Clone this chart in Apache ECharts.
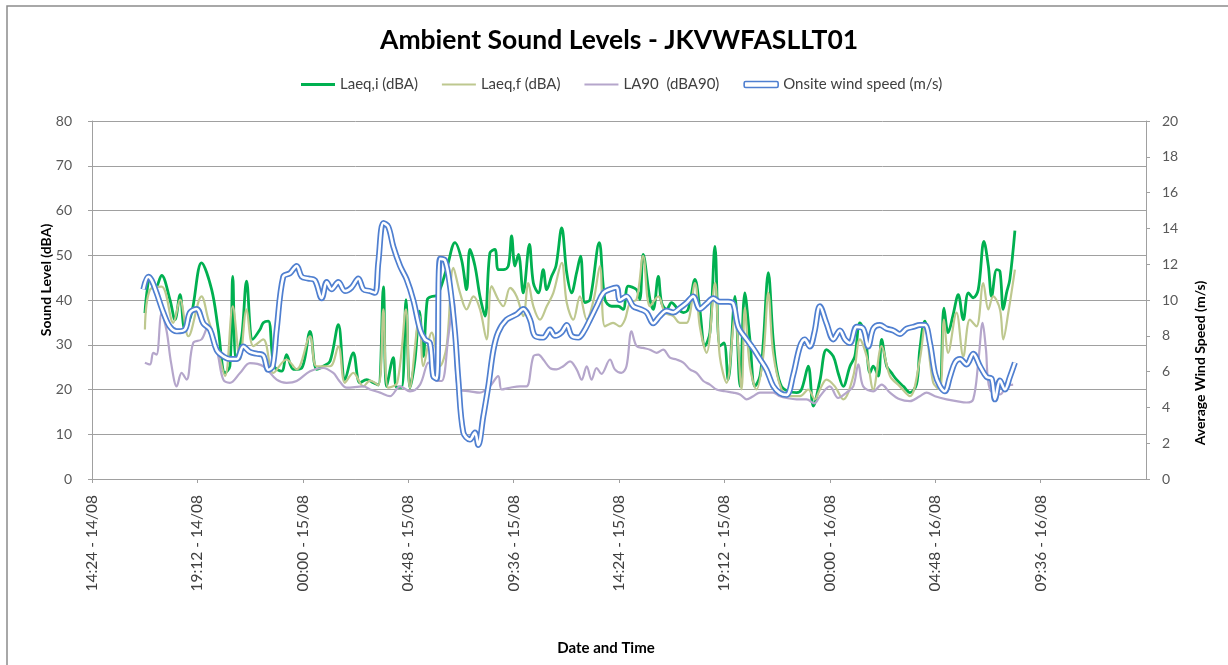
<!DOCTYPE html>
<html>
<head>
<meta charset="utf-8">
<title>Ambient Sound Levels - JKVWFASLLT01</title>
<script src="https://cdn.jsdelivr.net/npm/echarts@6/dist/echarts.min.js"></script>
<style>
  html, body { margin: 0; padding: 0; background: #ffffff; }
  #chart { width: 1228px; height: 665px; }
</style>
</head>
<body>
<div id="chart"></div>
<script>
// Time is in decimal hours counted from 00:00 on 14/08.
// Sound levels in dBA, wind speed in m/s.

// x-axis ticks: 14:24 14/08 to 14:24 16/08 every 4 h 48 min
const axisStart = 14.4;
const axisEnd = 62.4;
const axisStep = 4.8;

const laeqI = [
  [16.81,37.1],[17.04,44.6],[17.27,42.3],[17.57,45.5],[17.95,40.1],[18.18,35.6],[18.41,41.2],[18.63,33.4],
  [18.94,37.1],[19.39,48.3],[19.85,42.3],[20.15,33.4],[20.46,23.7],[20.68,25.2],[20.81,45.3],[20.96,26.7],
  [21.22,31.9],[21.44,44.2],[21.72,31.2],[22.05,33.4],[22.20,34.9],[22.43,35.3],[22.69,25.2],[23.04,24.1],
  [23.26,27.8],[23.57,24.5],[23.95,24.8],[24.33,33.0],[24.63,24.5],[24.93,25.2],[25.24,26.3],[25.62,34.5],
  [25.92,22.2],[26.30,28.2],[26.60,21.5],[26.91,22.2],[27.21,21.5],[27.44,21.0],[27.67,42.9],[27.82,20.7],
  [28.12,27.1],[28.27,20.5],[28.50,20.5],[28.70,40.1],[28.88,20.4],[29.11,26.7],[29.31,37.5],[29.49,27.4],
  [29.67,40.1],[29.87,40.8],[30.10,41.0],[30.55,47.0],[30.93,52.8],[31.23,49.0],[31.46,42.3],[31.61,51.3],
  [31.84,47.6],[32.07,40.8],[32.30,36.4],[32.52,50.5],[32.75,51.3],[32.90,46.8],[33.13,46.8],[33.36,47.6],
  [33.51,54.3],[33.66,47.6],[33.82,50.2],[34.04,41.6],[34.32,52.4],[34.50,43.8],[34.73,41.6],[34.95,46.8],
  [35.11,42.3],[35.33,45.3],[35.53,47.6],[35.79,56.1],[36.02,46.1],[36.24,41.6],[36.47,46.1],[36.65,49.8],
  [36.85,39.4],[37.08,40.1],[37.50,52.8],[37.76,40.1],[38.06,38.6],[38.36,38.6],[38.59,37.9],[38.82,43.1],
  [39.20,42.3],[39.35,40.1],[39.50,50.2],[39.81,40.1],[39.96,37.9],[40.19,45.3],[40.34,39.4],[40.57,37.9],
  [40.79,39.4],[41.10,37.9],[41.33,37.2],[41.55,37.9],[41.86,44.6],[42.08,37.9],[42.31,29.7],[42.54,32.7],
  [42.77,52.0],[42.99,29.7],[43.18,30.4],[43.37,22.2],[43.68,40.8],[43.91,20.7],[44.13,41.6],[44.36,31.2],
  [44.59,20.7],[44.82,23.0],[44.97,30.4],[45.20,46.1],[45.42,31.2],[45.58,24.5],[45.80,20.7],[46.11,19.6],
  [46.49,19.3],[46.71,20.0],[47.02,25.2],[47.25,16.3],[47.55,22.0],[47.85,28.9],[48.16,27.4],[48.38,23.7],
  [48.61,20.7],[48.92,25.2],[49.14,27.4],[49.37,34.9],[49.60,32.7],[49.83,23.7],[49.98,25.2],[50.21,23.0],
  [50.36,31.2],[50.59,25.2],[50.81,23.7],[51.04,22.2],[51.35,20.7],[51.65,19.3],[51.95,21.2],[52.10,29.0],
  [52.33,35.3],[52.56,31.2],[52.79,23.7],[53.01,21.9],[53.20,38.2],[53.39,32.7],[53.62,36.8],[53.85,41.2],
  [54.08,35.6],[54.31,41.6],[54.53,40.5],[54.76,42.3],[55.02,53.1],[55.22,47.6],[55.37,40.8],[55.60,46.8],
  [55.75,46.4],[55.90,37.9],[56.05,41.6],[56.20,44.6],[56.43,55.5]
];

const laeqF = [
  [16.81,33.4],[17.04,42.3],[17.57,43.0],[18.10,34.9],[18.41,40.1],[18.79,31.9],[19.39,40.8],[19.70,35.6],
  [20.08,29.7],[20.46,23.0],[20.81,38.6],[21.14,26.7],[21.44,37.9],[21.75,29.7],[22.20,31.2],[22.66,23.7],
  [23.26,26.7],[23.72,24.5],[24.33,31.9],[24.63,25.2],[25.24,25.2],[25.62,29.7],[25.92,21.5],[26.30,23.7],
  [26.76,20.7],[27.06,22.0],[27.44,21.0],[27.67,37.9],[27.89,20.4],[28.30,21.5],[28.70,37.9],[28.88,20.4],
  [29.31,36.4],[29.49,25.2],[29.87,32.7],[30.25,25.2],[30.55,29.7],[30.86,47.2],[31.16,41.6],[31.46,37.9],
  [31.77,40.8],[32.07,37.9],[32.37,31.2],[32.60,43.1],[32.90,40.1],[33.13,38.6],[33.44,42.7],[33.74,40.8],
  [34.04,36.4],[34.27,43.8],[34.50,38.6],[34.80,35.6],[35.11,38.6],[35.41,41.6],[35.79,48.3],[36.02,39.4],
  [36.32,35.6],[36.62,40.8],[36.93,35.6],[37.25,40.1],[37.53,47.6],[37.76,34.1],[38.13,34.9],[38.44,34.1],
  [38.67,35.6],[38.90,39.4],[39.20,40.1],[39.50,49.8],[39.81,38.6],[40.19,40.8],[40.49,37.2],[40.87,36.4],
  [41.17,34.9],[41.48,34.9],[41.86,43.8],[42.08,34.1],[42.39,28.2],[42.77,43.8],[42.99,27.4],[43.30,21.5],
  [43.68,36.4],[43.98,20.0],[44.13,38.2],[44.36,25.2],[44.66,20.0],[44.97,27.4],[45.20,41.6],[45.42,28.2],
  [45.80,20.0],[46.18,18.5],[46.64,18.5],[47.02,20.0],[47.32,17.8],[47.55,20.0],[47.85,22.2],[48.23,20.7],
  [48.61,17.8],[49.07,23.0],[49.37,31.2],[49.68,27.4],[49.98,20.0],[50.36,29.7],[50.74,23.0],[51.19,20.7],
  [51.65,18.5],[52.10,26.7],[52.33,34.1],[52.71,21.5],[53.01,20.0],[53.20,35.6],[53.39,28.2],[53.77,37.2],
  [54.08,27.4],[54.38,35.6],[54.68,34.1],[54.99,43.8],[55.22,37.9],[55.44,40.8],[55.75,37.9],[55.90,31.2],
  [56.13,37.2],[56.43,46.8]
];

const la90 = [
  [16.81,26.0],[17.04,25.6],[17.19,28.2],[17.34,27.8],[17.57,37.0],[17.80,33.0],[18.00,26.0],[18.26,20.7],
  [18.48,23.7],[18.71,22.2],[19.01,30.4],[19.39,31.2],[19.70,34.1],[19.93,31.9],[20.15,27.4],[20.38,22.2],
  [20.68,21.5],[21.14,23.7],[21.59,25.9],[22.20,25.2],[22.81,22.2],[23.26,21.5],[23.72,21.9],[24.33,24.1],
  [24.93,24.8],[25.39,23.7],[25.62,22.2],[26.00,20.4],[26.76,20.7],[27.06,20.0],[27.52,19.3],[27.97,18.5],
  [28.43,20.7],[28.88,19.6],[29.34,21.1],[29.72,26.0],[30.02,22.2],[30.32,21.9],[30.63,31.9],[30.86,40.1],
  [31.08,20.0],[31.61,19.6],[32.07,19.3],[32.52,20.7],[32.90,23.0],[33.06,20.0],[33.44,20.4],[33.89,20.7],
  [34.19,20.7],[34.50,27.4],[34.73,27.8],[34.95,26.7],[35.26,24.8],[35.56,24.5],[35.86,25.2],[36.17,26.3],
  [36.47,24.5],[36.70,22.2],[36.93,25.2],[37.15,22.2],[37.38,24.8],[37.60,23.5],[37.99,26.7],[38.21,24.5],
  [38.51,23.7],[38.74,25.2],[38.97,33.0],[39.20,29.7],[39.50,29.3],[39.81,28.9],[40.11,28.2],[40.41,28.9],
  [40.72,27.1],[41.02,26.7],[41.33,26.0],[41.63,24.5],[41.93,23.7],[42.24,21.9],[42.54,21.1],[42.84,20.0],
  [43.22,19.6],[43.60,19.3],[43.91,18.9],[44.21,17.8],[44.51,18.5],[44.82,19.3],[45.42,19.3],[45.73,18.5],
  [46.03,18.1],[46.49,17.8],[46.94,17.8],[47.30,16.9],[47.55,18.5],[48.00,20.7],[48.38,18.1],[48.76,19.3],
  [49.07,20.7],[49.30,25.6],[49.52,20.7],[49.98,19.6],[50.36,21.1],[50.74,19.3],[51.19,17.8],[51.65,17.4],
  [52.10,18.5],[52.41,19.3],[52.79,18.5],[53.32,17.8],[53.77,17.4],[54.23,17.1],[54.53,17.8],[54.76,26.0],
  [54.96,34.9],[55.11,29.0],[55.29,20.0],[55.75,18.9],[56.05,20.7],[56.35,21.1]
];

const windSpeed = [
  [16.74,10.6],[16.96,11.3],[17.12,11.1],[17.34,10.4],[17.65,9.3],[17.95,8.5],[18.26,8.25],[18.63,8.35],
  [18.86,9.3],[19.17,9.5],[19.47,8.7],[19.77,8.35],[20.08,7.2],[20.38,6.85],[20.68,6.7],[20.99,6.7],
  [21.29,7.4],[21.59,7.1],[21.90,7.0],[22.20,6.9],[22.43,6.1],[22.63,6.3],[22.81,8.35],[23.11,11.3],
  [23.42,11.5],[23.72,11.9],[23.95,11.3],[24.25,11.2],[24.55,11.1],[24.86,10.1],[25.09,11.0],[25.31,10.6],
  [25.62,11.0],[25.92,10.5],[26.22,10.7],[26.53,11.2],[26.76,10.6],[27.06,10.5],[27.29,10.4],[27.44,12.1],
  [27.67,14.3],[27.89,14.1],[28.12,13.0],[28.43,11.9],[28.73,11.15],[29.03,10.0],[29.34,8.35],[29.56,7.8],
  [29.79,7.6],[29.94,5.75],[30.10,5.6],[30.25,12.3],[30.48,12.2],[30.70,10.8],[30.93,8.2],[31.08,5.6],
  [31.31,2.6],[31.61,2.2],[31.84,2.6],[31.99,1.9],[32.22,3.5],[32.45,5.2],[32.68,7.2],[32.90,8.2],
  [33.28,8.9],[33.74,9.2],[34.04,9.5],[34.35,8.9],[34.57,8.0],[34.95,7.9],[35.26,8.35],[35.48,8.0],
  [35.79,8.2],[36.02,8.6],[36.24,8.0],[36.55,7.9],[36.78,8.2],[37.08,8.9],[37.38,9.65],[37.69,10.4],
  [37.99,10.6],[38.29,10.7],[38.44,10.0],[38.74,10.2],[39.05,9.65],[39.35,9.5],[39.66,9.3],[39.96,8.7],
  [40.26,9.1],[40.57,9.4],[40.87,9.3],[41.17,9.55],[41.48,9.85],[41.78,10.2],[42.08,9.5],[42.39,9.8],
  [42.69,10.1],[42.99,9.9],[43.37,9.9],[43.60,9.8],[43.83,8.5],[44.21,7.8],[44.51,7.3],[44.82,6.7],
  [45.12,6.1],[45.42,5.2],[45.73,4.8],[46.03,4.7],[46.33,5.8],[46.64,7.4],[46.86,7.8],[47.09,7.4],
  [47.30,8.2],[47.55,9.65],[47.85,8.7],[48.16,7.8],[48.46,8.3],[48.69,7.8],[48.92,7.6],[49.22,8.5],
  [49.52,8.4],[49.75,7.4],[49.98,8.4],[50.28,8.6],[50.59,8.4],[50.89,8.3],[51.19,8.1],[51.50,8.4],
  [51.80,8.5],[52.10,8.6],[52.33,8.6],[52.56,7.6],[52.79,5.9],[53.01,5.2],[53.24,4.9],[53.47,5.7],
  [53.70,6.5],[53.93,6.7],[54.23,6.4],[54.53,7.0],[54.84,6.3],[55.14,5.7],[55.37,5.6],[55.52,4.45],
  [55.75,5.5],[55.97,5.0],[56.20,5.7],[56.43,6.5]
];

const seriesNames = ['Laeq,i (dBA)', 'Laeq,f (dBA)', 'LA90  (dBA90)', 'Onsite wind speed (m/s)'];
const titleText = 'Ambient Sound Levels - JKVWFASLLT01';
const xAxisTitle = 'Date and Time';
const leftAxisTitle = 'Sound Level (dBA)';
const rightAxisTitle = 'Average Wind Speed (m/s)';

const FONT = 'Lato, "Open Sans", sans-serif';
const COLORS = { laeqI: '#00B050', laeqF: '#BEC88F', la90: '#B5A6CB', wind: '#4F7FD0' };

function pad(n) { return (n < 10 ? '0' : '') + n; }
function timeLabel(v) {
  const minutes = Math.round(v * 60);
  const day = 14 + Math.floor(minutes / 1440);
  const m = minutes % 1440;
  return pad(Math.floor(m / 60)) + ':' + pad(m % 60) + ' - ' + day + '/08';
}

// thin bar used as the legend key of the plain lines
function lineKey(h) { return 'path://M0,0h34v' + h + 'h-34z'; }

const chart = echarts.init(document.getElementById('chart'), null, { renderer: 'canvas' });

const gridLine = '#A0A0A0';
const axisGrey = '#A0A0A0';

chart.setOption({
  backgroundColor: '#ffffff',
  animation: false,
  title: {
    text: titleText,
    left: 375,
    top: 22,
    textStyle: { fontFamily: FONT, fontWeight: 'bold', fontSize: 26.5, color: '#000000' }
  },
  legend: {
    top: 72,
    left: 296,
    itemWidth: 34,
    itemHeight: 6,
    itemGap: 24,
    symbolKeepAspect: true,
    textStyle: { fontFamily: FONT, fontSize: 15, color: '#404040' },
    data: [
      { name: seriesNames[0], icon: lineKey(2.8), itemStyle: { color: COLORS.laeqI } },
      { name: seriesNames[1], icon: lineKey(2.2), itemStyle: { color: COLORS.laeqF } },
      { name: seriesNames[2], icon: lineKey(2.2), itemStyle: { color: COLORS.la90 } },
      { name: seriesNames[3], icon: 'roundRect',
        itemStyle: { color: '#ffffff', borderColor: COLORS.wind, borderWidth: 1.6 } }
    ]
  },
  grid: { left: 92, right: 82, top: 121, bottom: 186, containLabel: false },
  xAxis: {
    type: 'value',
    min: axisStart,
    max: axisEnd,
    interval: axisStep,
    axisLine: { show: true, lineStyle: { color: axisGrey, width: 1 } },
    axisTick: { show: true, length: 4, lineStyle: { color: axisGrey } },
    splitLine: { show: false },
    axisLabel: {
      rotate: 90,
      margin: 16,
      showMaxLabel: false,
      fontFamily: FONT,
      fontSize: 15.5,
      color: '#404040',
      formatter: timeLabel
    }
  },
  yAxis: [
    {
      type: 'value',
      min: 0, max: 80, interval: 10,
      axisLine: { show: true, lineStyle: { color: axisGrey } },
      axisTick: { show: true, length: 4, lineStyle: { color: axisGrey } },
      splitLine: { show: true, lineStyle: { color: gridLine, width: 1 } },
      axisLabel: { margin: 20, fontFamily: FONT, fontSize: 14, color: '#595959' }
    },
    {
      type: 'value',
      min: 0, max: 20, interval: 2,
      position: 'right',
      axisLine: { show: true, lineStyle: { color: axisGrey } },
      axisTick: { show: true, length: 4, lineStyle: { color: axisGrey } },
      splitLine: { show: false },
      axisLabel: { margin: 16, fontFamily: FONT, fontSize: 14, color: '#595959' }
    }
  ],
  graphic: [
    {
      type: 'rect', silent: true, z: -10,
      shape: { x: 7, y: 6, width: 1260, height: 720 },
      style: { fill: 'none', stroke: '#8C8C8C', lineWidth: 1.5 }
    },
    {
      type: 'text', x: 46, y: 280, rotation: Math.PI / 2,
      style: { text: leftAxisTitle, fontFamily: FONT, fontWeight: 'bold', fontSize: 14,
               fill: '#000000', align: 'center', verticalAlign: 'middle' }
    },
    {
      type: 'text', x: 1200, y: 363, rotation: Math.PI / 2,
      style: { text: rightAxisTitle, fontFamily: FONT, fontWeight: 'bold', fontSize: 14,
               fill: '#000000', align: 'center', verticalAlign: 'middle' }
    },
    {
      type: 'text', x: 606, y: 648,
      style: { text: xAxisTitle, fontFamily: FONT, fontWeight: 'bold', fontSize: 15,
               fill: '#000000', align: 'center', verticalAlign: 'middle' }
    }
  ],
  series: [
    {
      name: seriesNames[0], type: 'line', yAxisIndex: 0, data: laeqI,
      symbol: 'none', smooth: 0.35, z: 2,
      lineStyle: { color: COLORS.laeqI, width: 2.8 }, itemStyle: { color: COLORS.laeqI }
    },
    {
      name: seriesNames[1], type: 'line', yAxisIndex: 0, data: laeqF,
      symbol: 'none', smooth: 0.35, z: 3,
      lineStyle: { color: COLORS.laeqF, width: 2.2 }, itemStyle: { color: COLORS.laeqF }
    },
    {
      name: seriesNames[2], type: 'line', yAxisIndex: 0, data: la90,
      symbol: 'none', smooth: 0.35, z: 4,
      lineStyle: { color: COLORS.la90, width: 2.2 }, itemStyle: { color: COLORS.la90 }
    },
    {
      name: seriesNames[3], type: 'line', yAxisIndex: 1, data: windSpeed,
      symbol: 'none', smooth: 0.35, z: 5,
      lineStyle: { color: COLORS.wind, width: 6 }, itemStyle: { color: COLORS.wind }
    },
    {
      // white core of the double-stroked wind line
      name: 'wind-core', type: 'line', yAxisIndex: 1, data: windSpeed,
      symbol: 'none', smooth: 0.35, z: 6, silent: true,
      lineStyle: { color: '#ffffff', width: 2.6 }, itemStyle: { color: '#ffffff' }
    }
  ]
});
</script>
</body>
</html>
